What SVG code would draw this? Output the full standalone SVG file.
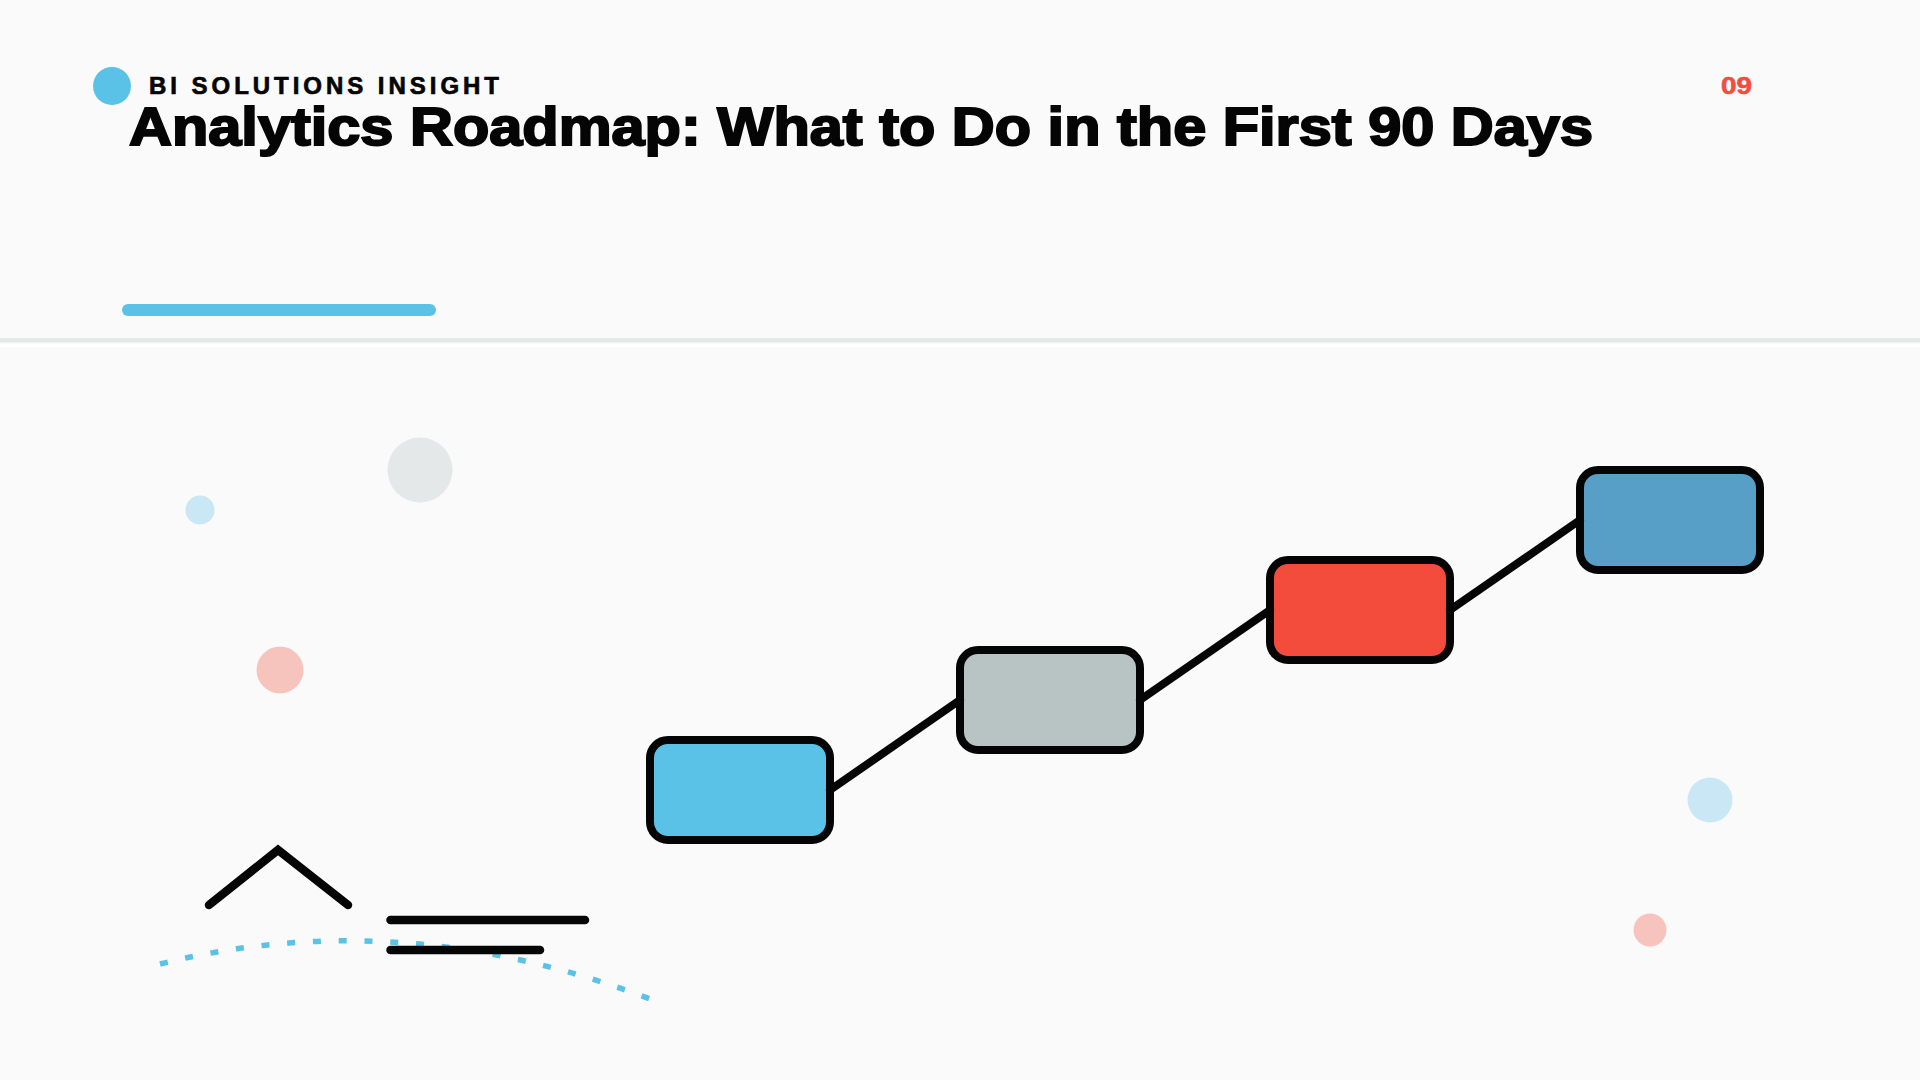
<svg xmlns="http://www.w3.org/2000/svg" width="1920" height="1080" viewBox="0 0 1920 1080">
  <style>
    .node { stroke: #050505; stroke-width: 8; }
    .conn { stroke: #050505; stroke-width: 8; stroke-linecap: round; fill: none; }
    .deco { stroke: #050505; stroke-width: 8.5; stroke-linecap: round; fill: none; }
    .heavy { font-family: "Liberation Sans", Arial, sans-serif; font-weight: 900; }
  </style>
  <rect x="0" y="0" width="1920" height="1080" fill="#FAFAFA"/>

  <!-- header -->
  <g id="header">
    <circle cx="112" cy="86" r="19" fill="#5BC2E7"/>
    <text class="heavy" x="149" y="94" font-size="24" fill="#050505" stroke="#050505" stroke-width="0.7" textLength="350" lengthAdjust="spacing">BI SOLUTIONS INSIGHT</text>
    <text class="heavy" x="129" y="145" font-size="53" fill="#050505" stroke="#050505" stroke-width="2" textLength="1464" lengthAdjust="spacingAndGlyphs">Analytics Roadmap: What to Do in the First 90 Days</text>
    <text class="heavy" x="1721" y="94" font-size="24" fill="#F44C3C" stroke="#F44C3C" stroke-width="0.6" textLength="31" lengthAdjust="spacingAndGlyphs">09</text>
    <rect x="122" y="304" width="314" height="12" rx="6" fill="#5BC2E7"/>
    <rect x="0" y="338" width="1920" height="4.5" fill="#E6E8E8"/>
    <rect x="0" y="344.5" width="1920" height="2.5" fill="#FFFFFF"/>
  </g>

  <!-- decorative circles -->
  <g id="decor-circles">
    <circle cx="200" cy="510" r="14.5" fill="#C9E7F4"/>
    <circle cx="420" cy="470" r="32.5" fill="#E4E8E8"/>
    <circle cx="280" cy="670" r="23.5" fill="#F7C3BD"/>
    <circle cx="1710" cy="800" r="22.5" fill="#C9E7F4"/>
    <circle cx="1650" cy="930" r="16.5" fill="#F7C3BD"/>
  </g>

  <!-- decorative strokes -->
  <g id="decor-lines">
    <path d="M160,964 Q400,904 650,999" fill="none" stroke="#5BC2E7" stroke-width="5.5" stroke-dasharray="8 17.8"/>
    <polyline class="deco" points="209,905 278,850 348,905" stroke-width="8" stroke-linejoin="miter"/>
    <line class="deco" x1="390.5" y1="920" x2="585" y2="920"/>
    <line class="deco" x1="390.5" y1="950" x2="540" y2="950"/>
  </g>

  <!-- nodes -->
  <g id="node-1"><rect class="node" x="650" y="740" width="180" height="100" rx="18" fill="#5BC2E7"/></g>
  <g id="node-2"><rect class="node" x="960" y="650" width="180" height="100" rx="18" fill="#B8C4C4"/></g>
  <g id="node-3"><rect class="node" x="1270" y="560" width="180" height="100" rx="18" fill="#F44C3C"/></g>
  <g id="node-4"><rect class="node" x="1580" y="470" width="180" height="100" rx="18" fill="#589FC8"/></g>

  <!-- connectors -->
  <g id="connectors">
    <line class="conn" x1="830" y1="790" x2="960" y2="700"/>
    <line class="conn" x1="1140" y1="700" x2="1270" y2="610"/>
    <line class="conn" x1="1450" y1="610" x2="1580" y2="520"/>
  </g>
</svg>
